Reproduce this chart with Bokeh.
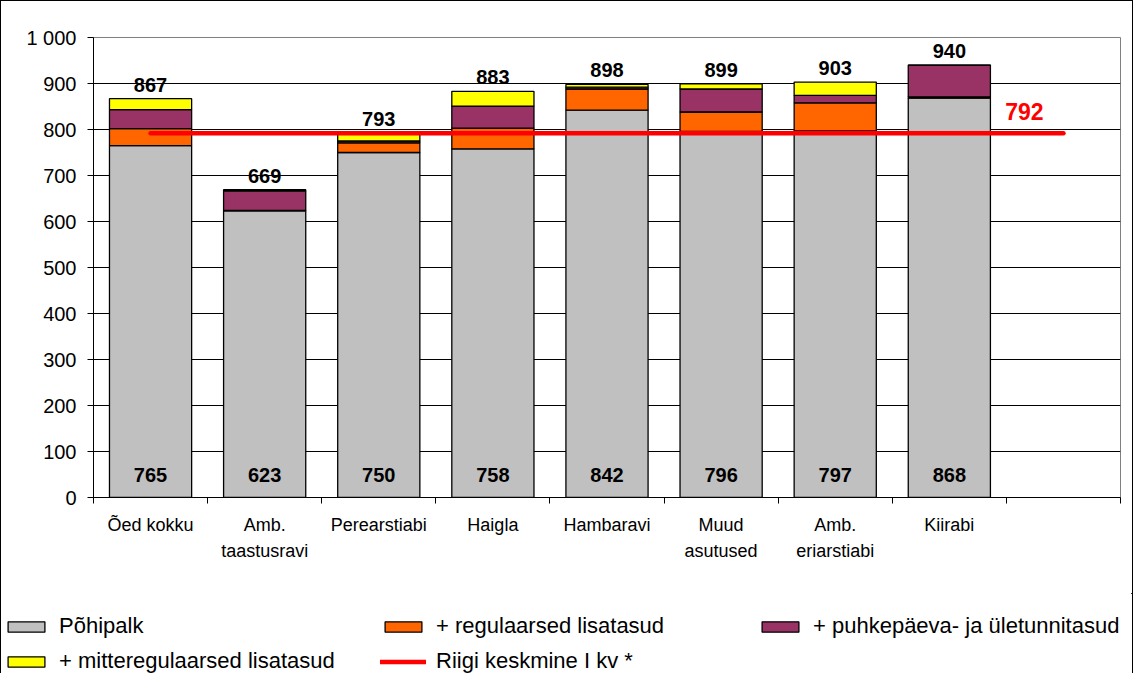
from bokeh.plotting import figure
from bokeh.layouts import column
from bokeh.models import Range1d, FixedTicker, ColumnDataSource, Legend, LegendItem
from bokeh.core.properties import value
from bokeh.embed import file_html
from bokeh.resources import INLINE

categories = ["Õed kokku", "Amb.\ntaastusravi", "Perearstiabi", "Haigla", "Hambaravi",
              "Muud\nasutused", "Amb.\neriarstiabi", "Kiirabi", ""]
pohipalk = [765, 623, 750, 758, 842, 796, 797, 868]
regulaarsed = [37, 1, 21, 45, 46, 42, 61, 3]
puhkepaeva = [41, 42, 4, 48, 4, 50, 16, 69]
mitteregulaarsed = [24, 3, 18, 32, 6, 11, 29, 0]
totals = [867, 669, 793, 883, 898, 899, 903, 940]
riigi_keskmine = 792

series_names = ["Põhipalk", "+ regulaarsed lisatasud", "+ puhkepäeva- ja ületunnitasud",
                "+ mitteregulaarsed lisatasud"]
line_name = "Riigi keskmine I kv *"
colors = ["#C0C0C0", "#FF6600", "#993366", "#FFFF00"]
y_ticks = list(range(0, 1001, 100))

FONT = "Liberation Sans"

n = len(pohipalk)
xs = list(range(n))
stack_cols = ["s0", "s1", "s2", "s3"]
src = ColumnDataSource(dict(x=xs, s0=pohipalk, s1=regulaarsed, s2=puhkepaeva, s3=mitteregulaarsed,
                            total=totals, total_txt=[str(v) for v in totals],
                            base_txt=[str(v) for v in pohipalk], zero=[0] * n))
line_x = [0, len(categories) - 1]
line_y = [riigi_keskmine, riigi_keskmine]

p = figure(width=1131, height=592, output_backend="svg", toolbar_location=None,
           x_range=Range1d(-0.5, len(categories) - 0.5), y_range=Range1d(0, 1000),
           min_border_left=92, min_border_right=12, min_border_top=36, min_border_bottom=96)
p.frame_align = False
p.background_fill_color = "white"
p.border_fill_color = "white"
p.outline_line_color = "#808080"
p.outline_line_width = 1

# axes
p.xaxis.ticker = FixedTicker(ticks=list(range(len(categories))),
                             minor_ticks=[i - 0.5 for i in range(len(categories) + 1)])
p.xaxis.major_label_overrides = {i: c for i, c in enumerate(categories)}
p.xaxis.major_tick_line_color = None
p.xaxis.minor_tick_line_color = "black"
p.xaxis.minor_tick_in = 0
p.xaxis.minor_tick_out = 6
p.xaxis.axis_line_color = "black"
p.xaxis.major_label_text_font = FONT
p.xaxis.major_label_text_font_size = "18px"
p.xaxis.major_label_text_color = "black"
p.xaxis.major_label_standoff = 11
p.xaxis.major_label_text_line_height = 1.3

p.yaxis.ticker = FixedTicker(ticks=y_ticks)
p.yaxis.major_label_overrides = {1000: "1 000"}
p.yaxis.minor_tick_line_color = None
p.yaxis.major_tick_in = 0
p.yaxis.major_tick_out = 6
p.yaxis.major_tick_line_color = "black"
p.yaxis.axis_line_color = "black"
p.yaxis.major_label_text_font = FONT
p.yaxis.major_label_text_font_size = "20px"
p.yaxis.major_label_text_color = "black"
p.yaxis.major_label_standoff = 11

p.xgrid.grid_line_color = None
p.ygrid.grid_line_color = "black"
p.ygrid.grid_line_width = 1

# bars
bars = p.vbar_stack(stack_cols, x="x", width=0.72, color=colors,
                    line_color="black", line_width=1.3, source=src)

# average line
avg_line = p.line(x=line_x, y=line_y, line_color="#FF0000", line_width=4.5, line_cap="round")

# labels
p.text(x="x", y="total", text="total_txt", source=src, text_align="center",
       text_baseline="bottom", y_offset=-7, text_font=value(FONT), text_font_style="bold",
       text_font_size="20px", text_color="black")
p.text(x="x", y="zero", text="base_txt", source=src, text_align="center",
       text_baseline="middle", y_offset=-23, text_font=value(FONT), text_font_style="bold",
       text_font_size="20px", text_color="black")
p.text(x=[len(categories) - 1], y=[riigi_keskmine], text=[str(riigi_keskmine)],
       text_align="center", text_baseline="middle", x_offset=-39, y_offset=-22,
       text_font=value(FONT), text_font_style="bold", text_font_size="23px",
       text_color="#FF0000")

# legend figure (same series drawn out of its visible range; only the legend shows)
lg = figure(width=1131, height=80, output_backend="svg", toolbar_location=None,
            x_range=Range1d(-1000, -999), y_range=Range1d(-1000, -999),
            x_axis_location=None, y_axis_location=None, min_border=0)
lg.frame_align = False
lg.outline_line_color = None
lg.xgrid.grid_line_color = None
lg.ygrid.grid_line_color = None
lg.background_fill_color = "white"
lg.border_fill_color = "white"

lg_bars = lg.vbar_stack(stack_cols, x="x", width=0.72, color=colors,
                        line_color="black", line_width=1.3, source=src)
lg_line = lg.line(x=line_x, y=line_y, line_color="#FF0000", line_width=4.5, line_cap="round")

items = [LegendItem(label=series_names[i], renderers=[lg_bars[i]]) for i in range(4)]
items.append(LegendItem(label=line_name, renderers=[lg_line]))
legend = Legend(items=items, orientation="horizontal", ncols=3, location=(2, -1),
                glyph_width=46, glyph_height=13, label_width=312, label_height=24,
                label_standoff=10, spacing=9, padding=0, margin=0,
                border_line_color=None, background_fill_alpha=0,
                label_text_font=FONT, label_text_font_size="22px", label_text_color="black")
lg.add_layout(legend, "center")

layout = column(p, lg, spacing=0,
                styles={"border-left": "1px solid black", "border-top": "1px solid black",
                        "border-right": "1px solid black"})

open("out.html", "w").write(file_html(layout, INLINE))
